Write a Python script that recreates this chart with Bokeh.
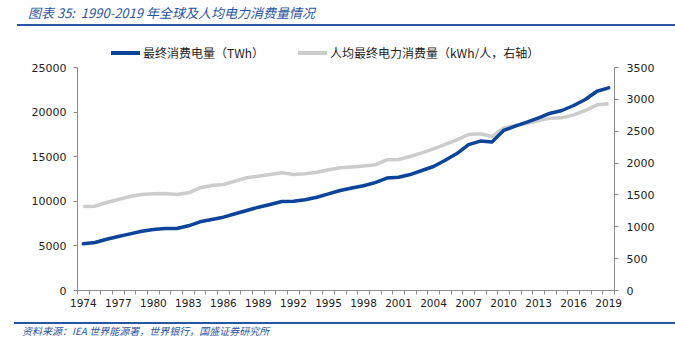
from bokeh.plotting import figure
from bokeh.models import Range1d, LinearAxis, FixedTicker, Div
from bokeh.layouts import column
from bokeh.embed import file_html
from bokeh.resources import INLINE

years = list(range(1974, 2020))
tick_years = list(range(1974, 2020, 3))
consumption_twh = [5230, 5380, 5750, 6050, 6350, 6650, 6840, 6950, 6950, 7250,
                   7700, 7950, 8220, 8600, 8970, 9340, 9640, 9980, 10010, 10170,
                   10460, 10840, 11210, 11500, 11750, 12100, 12600, 12700, 13000, 13450,
                   13900, 14600, 15350, 16350, 16750, 16650, 17940, 18420, 18870, 19360,
                   19880, 20180, 20740, 21410, 22340, 22720]
per_capita_kwh = [1318, 1323, 1381, 1428, 1475, 1507, 1517, 1523, 1507, 1533,
                  1612, 1648, 1664, 1716, 1769, 1794, 1820, 1847, 1820, 1831,
                  1857, 1894, 1925, 1940, 1955, 1973, 2051, 2056, 2103, 2160,
                  2224, 2292, 2365, 2448, 2459, 2417, 2548, 2590, 2626, 2668,
                  2705, 2710, 2757, 2825, 2914, 2930]
left_ticks = [0, 5000, 10000, 15000, 20000, 25000]
right_ticks = [0, 500, 1000, 1500, 2000, 2500, 3000, 3500]

title_text = "图表 35:&nbsp; 1990-2019 年全球及人均电力消费量情况"
source_text = "资料来源：IEA 世界能源署，世界银行，国盛证券研究所"
legend_1 = "最终消费电量（TWh）"
legend_2 = "人均最终电力消费量（kWh/人，右轴）"

BLUE = "#0B449A"
GRAY = "#CCCCCC"
HEAD = "#2A55A5"
AXIS = "#8C8C8C"
TXT = "#222222"
NUM_FONT = "DejaVu Sans"
CJK = "Noto Sans CJK SC"

W = 675
HEAD_H = 58
FOOT_TOP = 316
FOOT_H = 351 - FOOT_TOP
FIG_H = FOOT_TOP - HEAD_H
FL, FR = 77, 614
FT = 67 - HEAD_H
FB = 290 - HEAD_H


def txt(left, center_y, text, size, color, italic=False):
    style = "font-style:italic;" if italic else ""
    return (f'<span style="position:absolute;left:{left}px;top:{center_y - 9}px;'
            f'white-space:nowrap;font-family:\'{CJK}\';{style}font-size:{size}px;'
            f'line-height:18px;color:{color};">{text}</span>')


def bar(left, top, width, height, color):
    return (f'<div style="position:absolute;left:{left}px;top:{top}px;width:{width}px;'
            f'height:{height}px;background:{color};"></div>')


header = Div(width=W, height=HEAD_H, margin=0, text=(
    f'<div style="position:relative;width:{W}px;height:{HEAD_H}px;">'
    + txt(28, 13, title_text, 13, HEAD, italic=True)
    + bar(17, 24, W - 17, 2, HEAD)
    + bar(111, 51, 29, 4, BLUE)
    + txt(143, 53, legend_1, 12, TXT)
    + bar(298, 51, 29, 4, GRAY)
    + txt(330, 53, legend_2, 12, TXT)
    + '</div>'))

footer = Div(width=W, height=FOOT_H, margin=0, text=(
    f'<div style="position:relative;width:{W}px;height:{FOOT_H}px;">'
    + bar(14, 322 - FOOT_TOP, W - 14, 2, HEAD)
    + txt(22, 331 - FOOT_TOP, source_text, 10, HEAD, italic=True)
    + '</div>'))

p = figure(width=W, height=FIG_H, output_backend="svg", toolbar_location=None,
           x_range=Range1d(years[0] - 0.5, years[-1] + 0.5),
           y_range=Range1d(left_ticks[0], left_ticks[-1]),
           min_border_left=FL, min_border_right=W - FR,
           min_border_top=FT, min_border_bottom=FIG_H - FB,
           x_axis_location=None, y_axis_location=None, margin=0)
p.outline_line_color = None
p.grid.visible = False
p.background_fill_color = "white"
p.border_fill_color = "white"

p.extra_y_ranges = {"right": Range1d(right_ticks[0], right_ticks[-1])}

xa = LinearAxis(ticker=FixedTicker(ticks=tick_years,
                                   minor_ticks=[y - 0.5 for y in years] + [years[-1] + 0.5]))
xa.major_tick_out = 0
xa.major_tick_in = 0
xa.minor_tick_out = 4
xa.minor_tick_in = 0
xa.minor_tick_line_color = AXIS
xa.axis_line_color = AXIS
xa.major_label_text_font = NUM_FONT
xa.major_label_text_font_size = "10.5px"
xa.major_label_text_color = TXT
xa.major_label_standoff = 4
p.add_layout(xa, "below")

ya = LinearAxis(ticker=FixedTicker(ticks=left_ticks))
ya.major_tick_out = 4
ya.major_tick_in = 0
ya.minor_tick_out = 0
ya.minor_tick_in = 0
ya.major_tick_line_color = AXIS
ya.axis_line_color = AXIS
ya.major_label_text_font = NUM_FONT
ya.major_label_text_font_size = "11px"
ya.major_label_text_color = TXT
ya.major_label_standoff = 7
p.add_layout(ya, "left")

yr = LinearAxis(y_range_name="right", ticker=FixedTicker(ticks=right_ticks))
yr.major_tick_out = 4
yr.major_tick_in = 0
yr.minor_tick_out = 0
yr.minor_tick_in = 0
yr.major_tick_line_color = AXIS
yr.axis_line_color = AXIS
yr.major_label_text_font = NUM_FONT
yr.major_label_text_font_size = "11px"
yr.major_label_text_color = TXT
yr.major_label_standoff = 8
p.add_layout(yr, "right")

p.line(years, per_capita_kwh, y_range_name="right", line_color=GRAY,
       line_width=3.5, line_join="round")
p.line(years, consumption_twh, line_color=BLUE, line_width=3.5,
       line_join="round", line_cap="round")

layout = column(header, p, footer, spacing=0, margin=0)

open("out.html", "w").write(file_html(layout, INLINE))
